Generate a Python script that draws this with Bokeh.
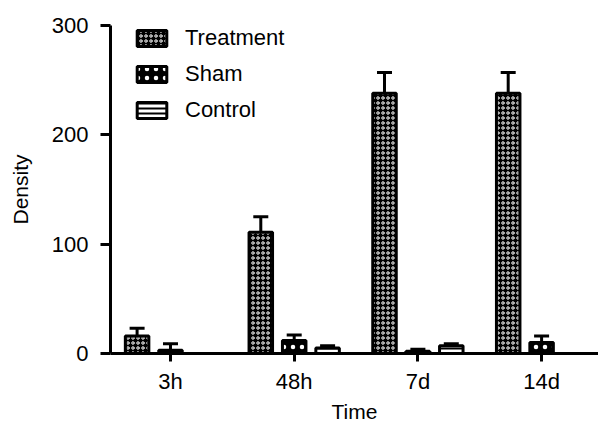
from bokeh.plotting import figure
from bokeh.models import (ColumnDataSource, Range1d, FixedTicker, Whisker, TeeHead,
                          Legend, LegendItem)
from bokeh.transform import dodge
from bokeh.embed import file_html
from bokeh.resources import INLINE

# ---- data ----
times = ["3h", "48h", "7d", "14d"]
treatment = [16, 111, 238, 238]
treatment_err = [7, 14, 19, 19]
sham = [3, 12, 2, 10]
sham_err = [6, 5, 2, 6]
control = [0, 5, 7, 0]
control_err = [0, 2, 2, 0]
y_ticks = [0, 100, 200, 300]

FONT = "Liberation Sans"
idx = list(range(len(times)))

p = figure(width=598, height=425, output_backend="svg", toolbar_location=None,
           x_range=Range1d(-0.485, 3.46), y_range=Range1d(0, 300),
           min_border_left=110, min_border_top=25, min_border_right=0,
           min_border_bottom=0)
p.outline_line_color = None
p.grid.visible = False
p.background_fill_color = "white"

series = [
    ("Treatment", treatment, treatment_err, -0.27,
     dict(fill_color="black", hatch_pattern="ring", hatch_color="white",
          hatch_scale=5, hatch_weight=1.0)),
    ("Sham", sham, sham_err, 0.0,
     dict(fill_color="black", hatch_pattern="dot", hatch_color="white",
          hatch_scale=9, hatch_weight=3)),
    ("Control", control, control_err, 0.27,
     dict(fill_color="white", hatch_pattern="horizontal_line", hatch_color="black",
          hatch_scale=5, hatch_weight=2)),
]

items = []
for name, vals, errs, off, style in series:
    src = ColumnDataSource(dict(x=idx, top=vals))
    r = p.vbar(x=dodge("x", off), top="top", bottom=0, width=0.19, source=src,
               line_color="black", line_width=3, **style)
    items.append(LegendItem(label=name, renderers=[r]))
    keep = [i for i in idx if errs[i] > 0]
    esrc = ColumnDataSource(dict(x=keep, lo=[vals[i] for i in keep],
                                 hi=[vals[i] + errs[i] for i in keep]))
    w = Whisker(source=esrc, base=dodge("x", off), lower="lo", upper="hi",
                line_width=3, line_color="black",
                upper_head=TeeHead(size=15, line_width=3, line_color="black"),
                lower_head=None)
    p.add_layout(w)

legend = Legend(items=items, location=(23, 230))
legend.glyph_width = 37
legend.glyph_height = 20
legend.label_height = 20
legend.spacing = 10
legend.padding = 0
legend.margin = 0
legend.label_standoff = 15
legend.label_text_font = FONT
legend.label_text_font_size = "22px"
legend.label_text_color = "black"
legend.border_line_color = None
legend.background_fill_alpha = 0
p.add_layout(legend)

for ax in (p.xaxis, p.yaxis):
    ax.axis_line_width = 3
    ax.major_tick_line_width = 3
    ax.major_tick_in = 0
    ax.minor_tick_line_color = None
    ax.major_label_text_font = FONT
    ax.major_label_text_font_size = "22px"
    ax.major_label_text_color = "black"
    ax.axis_label_text_font = FONT
    ax.axis_label_text_font_size = "21px"
    ax.axis_label_text_font_style = "normal"
    ax.axis_label_text_color = "black"

p.xaxis.ticker = FixedTicker(ticks=idx)
p.xaxis.major_label_overrides = {i: t for i, t in zip(idx, times)}
p.xaxis.major_tick_out = 8
p.xaxis.major_label_standoff = 7
p.xaxis.axis_label = "Time"
p.xaxis.axis_label_standoff = 3

p.yaxis.ticker = FixedTicker(ticks=y_ticks)
p.yaxis.major_tick_out = 10
p.yaxis.major_label_standoff = 12
p.yaxis.axis_label = "Density"
p.yaxis.axis_label_standoff = 17

open("out.html", "w").write(file_html(p, INLINE))
